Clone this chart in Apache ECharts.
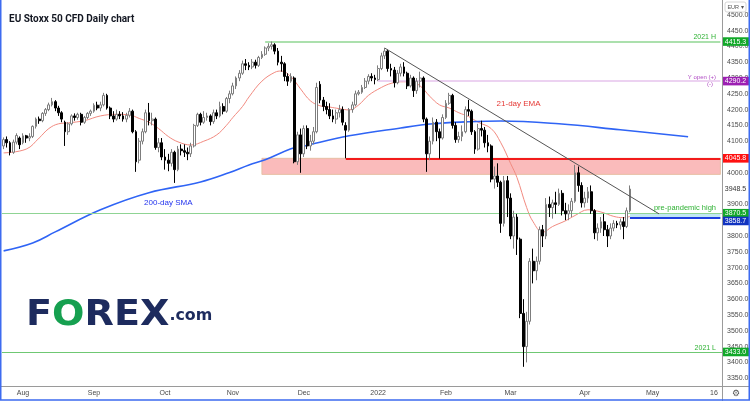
<!DOCTYPE html>
<html><head><meta charset="utf-8">
<script src="https://cdn.jsdelivr.net/npm/echarts/dist/echarts.min.js"></script>
<style>html,body{margin:0;padding:0;background:#fff;overflow:hidden}#c{width:750px;height:401px}</style>
</head><body><div id="c"></div>
<script>
// ---------------- DATA ----------------
const firstDate = '2021-07-23';
const categoryCount = 223;            // trading-day slots incl. future space
const monthLabels = {1:'2022',2:'Feb',3:'Mar',4:'Apr',5:'May',8:'Aug',9:'Sep',10:'Oct',11:'Nov',12:'Dec'};
const extraTickLabel = {index: 220, text: '16'};

// OHLC as [open, close, low, high]
const candles = [
[4085,4105,4075,4112],[4105,4095,4080,4115],[4095,4065,4055,4100],[4065,4097,4060,4105],[4097,4118,4090,4125],
[4110,4089,4075,4115],[4095,4117,4090,4125],[4117,4110,4095,4120],[4110,4115,4100,4125],[4115,4147,4110,4150],
[4147,4170,4140,4175],[4170,4165,4155,4178],[4165,4188,4160,4192],[4188,4200,4180,4205],[4200,4215,4195,4222],
[4215,4225,4210,4237],[4225,4205,4195,4230],[4205,4190,4180,4212],[4190,4170,4160,4195],[4160,4130,4085,4165],
[4130,4155,4120,4160],[4155,4180,4150,4185],[4180,4175,4165,4188],[4175,4185,4168,4190],[4185,4160,4150,4190],
[4160,4175,4155,4180],[4175,4188,4170,4192],[4188,4195,4180,4200],[4195,4214,4190,4220],[4214,4205,4198,4225],
[4205,4215,4195,4225],[4215,4245,4210,4253],[4245,4205,4200,4250],[4205,4180,4170,4210],[4180,4170,4160,4195],
[4170,4185,4165,4200],[4185,4180,4170,4195],[4180,4170,4162,4192],[4170,4182,4160,4190],[4182,4195,4175,4205],
[4195,4130,4125,4200],[4130,4035,4003,4135],[4040,4100,4030,4110],[4100,4130,4090,4140],[4130,4190,4125,4200],
[4190,4165,4150,4221],[4165,4170,4150,4190],[4170,4080,4073,4175],[4080,4095,4065,4110],[4095,4050,4040,4110],
[4050,4040,4010,4075],[4040,4030,4005,4060],[4030,4065,4020,4075],[4065,4010,3968,4070],[4010,4075,4005,4085],
[4075,4070,4055,4090],[4070,4065,4050,4090],[4065,4060,4040,4080],[4060,4085,4050,4095],[4085,4150,4080,4155],
[4150,4185,4145,4190],[4185,4160,4150,4190],[4160,4175,4155,4195],[4175,4180,4165,4190],[4180,4162,4150,4185],
[4162,4190,4155,4200],[4190,4180,4170,4200],[4180,4210,4175,4225],[4210,4195,4185,4220],[4195,4235,4190,4240],
[4235,4250,4220,4260],[4250,4275,4245,4285],[4275,4300,4265,4305],[4300,4315,4290,4325],[4315,4345,4310,4355],
[4345,4340,4325,4360],[4340,4335,4325,4350],[4335,4350,4328,4360],[4350,4340,4330,4358],[4340,4365,4335,4370],
[4365,4375,4360,4385],[4375,4395,4370,4400],[4395,4400,4385,4410],[4400,4405,4390,4415.3],[4405,4385,4375,4410],
[4385,4350,4340,4395],[4350,4345,4320,4370],[4345,4305,4290,4350],[4305,4290,4275,4315],[4290,4305,4285,4315],
[4300,4035,4030,4305],[4035,4120,4025,4130],[4120,4060,4000,4140],[4060,4140,4050,4150],[4140,4085,4075,4150],
[4085,4100,4070,4120],[4100,4130,4090,4145],[4130,4270,4125,4285],[4280,4230,4220,4290],[4230,4210,4195,4240],
[4210,4200,4185,4225],[4200,4180,4170,4220],[4180,4170,4160,4200],[4170,4190,4155,4200],[4190,4200,4175,4215],
[4200,4160,4150,4210],[4150,4135,4045.8,4160],[4135,4200,4130,4205],[4200,4215,4190,4225],[4215,4250,4210,4260],
[4250,4255,4245,4262],[4255,4270,4250,4278],[4270,4290,4265,4300],[4290,4305,4280,4312],[4305,4300,4290,4315],
[4300,4295,4280,4310],[4295,4330,4290,4340],[4330,4370,4325,4380],[4370,4385,4360,4395],[4385,4330,4320,4390],
[4330,4325,4305,4345],[4325,4285,4270,4335],[4285,4315,4280,4325],[4315,4335,4305,4345],[4335,4315,4305,4350],
[4315,4275,4265,4320],[4275,4300,4270,4310],[4300,4260,4240,4305],[4260,4290,4250,4300],[4290,4300,4270,4320],
[4300,4170,4160,4305],[4170,4060,4003,4175],[4060,4100,4040,4115],[4100,4160,4090,4175],[4160,4130,4100,4170],
[4130,4110,4045,4140],[4110,4175,4105,4185],[4175,4220,4170,4230],[4220,4245,4215,4253],[4245,4150,4140,4250],
[4150,4105,4095,4160],[4105,4115,4095,4130],[4115,4130,4100,4150],[4130,4200,4125,4210],[4200,4195,4180,4231],
[4195,4130,4120,4200],[4130,4075,4060,4135],[4075,4140,4070,4155],[4140,4135,4115,4165],[4135,4095,4080,4145],
[4095,4085,4065,4120],[4085,3980,3970,4090],[3980,3990,3950,4020],[3990,3970,3955,4030],[3970,3840,3810,3975],
[3840,3975,3830,3990],[3975,3920,3860,3990],[3920,3800,3790,3935],[3800,3860,3760,3880],[3860,3790,3740,3870],
[3790,3555,3540,3795],[3555,3450,3386,3600],[3450,3530,3400,3560],[3530,3720,3520,3730],[3720,3690,3650,3760],
[3690,3720,3660,3735],[3720,3820,3710,3830],[3820,3800,3765,3835],[3800,3900,3790,3920],[3900,3890,3860,3925],
[3890,3905,3855,3915],[3905,3900,3870,3940],[3900,3935,3895,3950],[3935,3880,3865,3945],[3880,3870,3850,3905],
[3870,3880,3850,3900],[3880,3910,3860,3920],[3910,4000,3905,4025],[4000,3960,3940,4020],[3960,3905,3890,3970],
[3905,3920,3890,3940],[3920,3940,3905,3955],[3940,3880,3870,3960],[3880,3810,3790,3885],[3810,3825,3785,3840],
[3825,3845,3810,3860],[3845,3820,3800,3870],[3820,3800,3765,3835],[3800,3825,3790,3840],[3825,3840,3815,3850],
[3840,3835,3825,3848],[3835,3845,3820,3855],[3845,3830,3790,3860],[3830,3880,3825,3890],[3880,3948.5,3875,3960]
];

// 21-day EMA: [bar index, value]
const ema21 = [[0,4063],[7,4075],[11,4110],[14,4140],[17,4155],[20,4158],[25,4165],[30,4180],[35,4185],[39,4183],
[42,4172],[45,4160],[48,4140],[51,4115],[54,4098],[58,4088],[62,4100],[66,4120],[69,4150],[71,4175],[74,4210],
[76,4240],[80,4290],[84,4318],[86,4322],[89,4304],[92,4265],[95,4228],[98,4212],[101,4208],[104,4203],[107,4199],
[110,4215],[113,4245],[117,4270],[120,4283],[123,4288],[126,4288],[129,4275],[132,4242],[135,4215],[138,4205],
[141,4190],[144,4178],[147,4160],[151,4140],[154,4095],[157,4030],[159,3985],[162,3890],[164,3845],[167,3812],
[170,3830],[174,3848],[177,3865],[181,3883],[185,3876],[189,3862],[192,3858],[194,3862]];

// 200-day SMA
const sma200 = [[0,3753],[9,3778],[16,3813],[30,3883],[45,3937],[61,3971],[70,4001],[76,4025],[81,4041],[89,4076],
[92,4082],[107,4117],[123,4142],[133,4155],[143,4161],[154,4164],[172,4155],[191,4136],[212,4114]];

const trendLine = [[118,4395],[203,3870]];

const yearHigh = 4415.3, yearOpen = 4290.2, resistance = 4045.8, zoneLow = 3995,
      lastPrice = 3948.5, prePandemicHigh = 3870.5, support = 3858.7, yearLow = 3433.0;
const yMin = 3300, yMax = 4550, yStep = 50;

// ---------------- CATEGORIES ----------------
const categories = [];
(function(){ const d = new Date(firstDate + 'T00:00:00Z');
  while (categories.length < categoryCount) { const w = d.getUTCDay();
    if (w !== 0 && w !== 6) categories.push(d.toISOString().slice(0,10));
    d.setUTCDate(d.getUTCDate() + 1); } })();
const lastIdx = categoryCount - 1;
const isMonthStart = i => i > 0 && categories[i].slice(0,7) !== categories[i-1].slice(0,7);

const FONT = 'Liberation Sans, Arial, sans-serif';
const chart = echarts.init(document.getElementById('c'), null, {renderer:'canvas'});

const option = {
  animation: false,
  backgroundColor: '#ffffff',
  grid: { left: 2, right: 28, top: -1, bottom: 7, outerBoundsMode: 'none', containLabel: false },
  xAxis: {
    type: 'category', data: categories, boundaryGap: true, offset: -8,
    axisLine: { show: false }, axisTick: { show: false }, splitLine: { show: false },
    axisLabel: {
      color: '#4a4a4a', fontSize: 7, fontFamily: FONT, margin: 4,
      interval: (i) => i === extraTickLabel.index || isMonthStart(i),
      formatter: (v, i) => i === extraTickLabel.index ? extraTickLabel.text : (monthLabels[+v.slice(5,7)] || '')
    }
  },
  yAxis: {
    type: 'value', position: 'right', min: yMin, max: yMax, interval: yStep,
    axisLine: { show: false }, axisTick: { show: false }, splitLine: { show: false },
    axisLabel: { color: '#4a4a4a', fontSize: 7, fontFamily: FONT, margin: 5,
      formatter: v => (v === yMin || v === yMax) ? '' : v.toFixed(1) }
  },
  series: [
    { type: 'candlestick', data: candles, barWidth: 2.3, z: 5,
      itemStyle: { color: '#ffffff', color0: '#000000', borderColor: '#7d7d7d', borderColor0: '#000000', borderWidth: 1 },
      markArea: { silent: true, data: [
        [{ xAxis: 80, yAxis: resistance, itemStyle: { color: 'rgba(245,120,120,0.5)', borderColor: 'rgba(230,190,160,0.9)', borderWidth: 1 } },
         { xAxis: lastIdx, yAxis: zoneLow }],
        [{ xAxis: 194, yAxis: prePandemicHigh, itemStyle: { color: 'rgba(150,215,235,0.6)' } },
         { xAxis: lastIdx, yAxis: support }]
      ]},
      markLine: { silent: true, symbol: 'none', label: { show: false }, data: [
        { yAxis: prePandemicHigh, lineStyle: { color: '#8fd494', width: 1, type: 'solid' } },
        { yAxis: yearLow, lineStyle: { color: '#6fc873', width: 1, type: 'solid' } },
        [{ coord: [81, yearHigh], lineStyle: { color: '#8fd692', width: 1.5, type: 'solid' } }, { coord: [lastIdx, yearHigh] }],
        [{ coord: [116, yearOpen], lineStyle: { color: '#e6c3ec', width: 1.5, type: 'solid' } }, { coord: [lastIdx, yearOpen] }],
        [{ coord: [106, resistance], lineStyle: { color: '#f21b1b', width: 2, type: 'solid' } }, { coord: [lastIdx, resistance] }],
        [{ coord: [194, support], lineStyle: { color: '#1d3fe0', width: 2, type: 'solid' } }, { coord: [lastIdx, support] }]
      ]}
    },
    { type: 'line', data: ema21, smooth: 0.4, showSymbol: false, z: 4,
      lineStyle: { color: '#f28a80', width: 1 } },
    { type: 'line', data: sma200, smooth: 0.4, showSymbol: false, z: 4,
      lineStyle: { color: '#2f64f5', width: 1.6 } },
    { type: 'line', data: trendLine, showSymbol: false, z: 6,
      lineStyle: { color: '#555555', width: 1 } }
  ]
};
chart.setOption(option);

// ---------------- OVERLAYS ----------------
const py = v => chart.convertToPixel({ yAxisIndex: 0 }, v);
const px = i => chart.convertToPixel({ xAxisIndex: 0 }, categories[i]);
const axisX = px(lastIdx) + 1.6;
const g = [];
function txt(x, y, s, size, color, align, extra) {
  g.push(Object.assign({ type: 'text', x, y, z: 50, silent: true,
    style: { text: s, fill: color, font: size + 'px ' + FONT, textAlign: align || 'left', textVerticalAlign: 'middle',
             align: align || 'left', verticalAlign: 'middle' } }, extra || {}));
}
const priceTags = [
  { v: yearHigh, bg: '#12a829' }, { v: yearOpen, bg: '#9c1fb2' }, { v: resistance, bg: '#ff1010' },
  { v: lastPrice, bg: '#ffffff', fg: '#333333' }, { v: prePandemicHigh, bg: '#12a829', shift: -0.5 },
  { v: support, bg: '#1133c0', shift: 3.5 }, { v: yearLow, bg: '#12a829' }
];
priceTags.forEach(t => {
  const y = py(t.v) + (t.shift || 0);
  g.push({ type: 'rect', z: 60, silent: true, shape: { x: axisX, y: y - 4.3, width: 750 - axisX, height: 8.6 }, style: { fill: t.bg } });
  txt(axisX + 13.5, y, t.v.toFixed(1), 7, t.fg || '#ffffff', 'center', { z: 61 });
});
// annotations
txt(716, py(4431), '2021 H', 7, '#2fb234', 'right');
txt(716, py(4301), 'Y open (+)', 6, '#b04bc4', 'right');
txt(713, py(4281), '(-)', 6, '#b04bc4', 'right');
txt(px(153) - 1, py(4218), '21-day EMA', 8, '#e53935', 'left');
txt(px(51), py(3905), '200-day SMA', 8, '#2233ee', 'center');
txt(716, py(3889), 'pre-pandemic high', 7.5, '#2fb234', 'right');
txt(716, py(3446), '2021 L', 7, '#2fb234', 'right');
// title
g.push({ type: 'text', x: 9, y: 19.5, z: 50, silent: true, style: { text: 'EU Stoxx 50 CFD Daily chart', fill: '#131722',
  font: 'bold 10px Roboto, sans-serif', textVerticalAlign: 'middle', verticalAlign: 'middle' } });
// logo
g.push({ type: 'text', x: 26, y: 334, scaleX: 1.06, z: 40, silent: true, style: {
  text: '{n|F}{o|O}{n|REX}{s|.com}', textVerticalAlign: 'bottom', verticalAlign: 'bottom',
  rich: { n: { font: 'bold 36px DejaVu Sans', fill: '#1d2b5e', color: '#1d2b5e' },
          o: { font: 'bold 36px DejaVu Sans', fill: '#16a050', color: '#16a050' },
          s: { font: 'bold 15px DejaVu Sans', fill: '#1d2b5e', color: '#1d2b5e' } } } });
// frame & axis separators
g.push({ type: 'line', z: 70, silent: true, shape: { x1: 0, y1: 386.5, x2: 750, y2: 386.5 }, style: { stroke: '#9a9a9a', lineWidth: 1 } });
g.push({ type: 'line', z: 70, silent: true, shape: { x1: axisX + 0.5, y1: 0, x2: axisX + 0.5, y2: 401 }, style: { stroke: '#9a9a9a', lineWidth: 1 } });
g.push({ type: 'rect', z: 80, silent: true, shape: { x: 0.75, y: -5, width: 748.5, height: 405 }, style: { fill: 'none', stroke: '#3d6bf0', lineWidth: 1.5 } });
// EUR selector & gear
g.push({ type: 'rect', z: 65, silent: true, shape: { x: 725, y: 2, width: 21, height: 10, r: 2 }, style: { fill: '#ffffff', stroke: '#cccccc', lineWidth: 0.8 } });
txt(735.5, 7, 'EUR ▾', 5.5, '#555555', 'center', { z: 66 });
txt(736, 393.5, '⚙', 9, '#555555', 'center');
chart.setOption({ graphic: { elements: g } });
</script></body></html>
